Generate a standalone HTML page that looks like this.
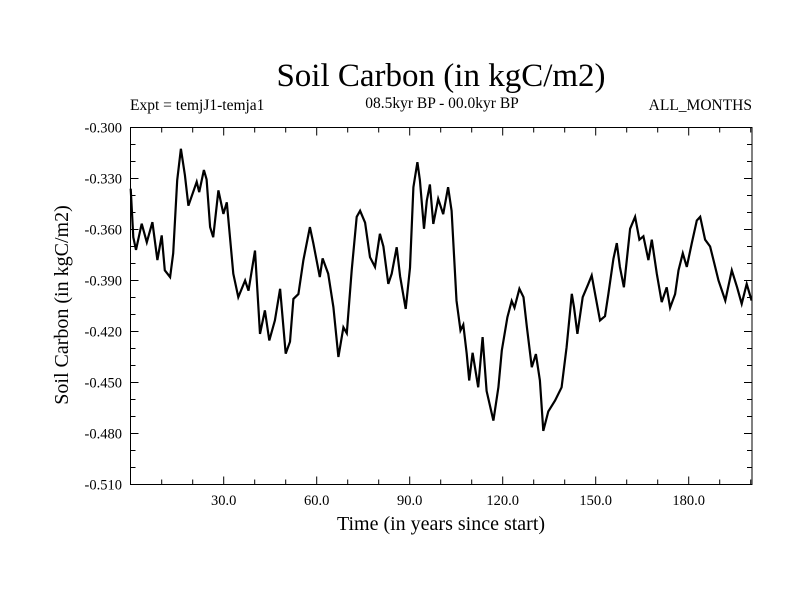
<!DOCTYPE html>
<html><head><meta charset="utf-8"><style>
body{margin:0;background:#fff;}
svg text{font-family:"Liberation Serif",serif;fill:#000;}
</style></head><body>
<svg id="chart" width="800" height="600" xmlns="http://www.w3.org/2000/svg">
<text x="441" y="86" font-size="33" text-anchor="middle">Soil Carbon (in kgC/m2)</text>
<text x="130" y="110" font-size="15.5">Expt = temjJ1-temja1</text>
<text x="442" y="108" font-size="15.5" text-anchor="middle">08.5kyr BP - 00.0kyr BP</text>
<text x="752" y="110" font-size="15.5" text-anchor="end">ALL_MONTHS</text>
<text x="441" y="530" font-size="20" text-anchor="middle">Time (in years since start)</text>
<text transform="translate(68,305) rotate(-90)" font-size="20" text-anchor="middle">Soil Carbon (in kgC/m2)</text>
<g id="axes"></g>
<g id="series"></g>
<rect x="130.5" y="127.5" width="621.5" height="357" fill="none" stroke="#000" stroke-width="1"/>
</svg>
<script>
const years=[0,0.85,1.7,3.55,5.2,7,8.6,10,11,12.7,13.7,15,16.2,17.5,18.6,21.3,22.1,23.6,24.5,25.6,26.6,28.3,29.9,31,33.1,34.7,36.9,38,40.1,41.7,43.3,44.7,46.5,48.2,50,51.4,52.5,54.1,55.7,57.8,58.9,61,61.9,63.7,65.4,67,68.6,69.7,71.3,72.9,74,75.6,77.2,78.8,80.4,81.5,83.1,84.2,85.8,86.9,88.7,90.1,91.2,92.5,93.3,94.6,95.5,96.5,97.6,99.2,100.8,102.4,103.5,105.1,106.4,107.3,108.4,109.2,110.3,112.1,113.5,114.8,117,118.6,119.7,121.5,122.9,123.8,125.4,126.7,127.8,129.4,130.7,132,133.1,134.7,136.9,139,140.6,142.3,143,144.1,145.8,147.6,148.7,150,151.4,153,154.1,155.7,156.8,157.8,159.1,161.1,162.7,164.1,165.4,167,168.1,169.7,171.3,172.9,174,175.6,176.7,178.1,179.4,181,182.6,183.7,185.3,186.9,188,189.6,191.8,193.9,195.6,197.1,198.7,200.3];
const carbon=[-0.336,-0.3645,-0.372,-0.3566,-0.3675,-0.3557,-0.378,-0.3635,-0.384,-0.388,-0.374,-0.331,-0.3125,-0.328,-0.346,-0.332,-0.338,-0.325,-0.3305,-0.3586,-0.3645,-0.337,-0.3508,-0.344,-0.386,-0.3998,-0.39,-0.396,-0.3724,-0.4214,-0.4076,-0.4253,-0.4135,-0.3949,-0.433,-0.426,-0.4008,-0.398,-0.378,-0.3586,-0.368,-0.388,-0.377,-0.386,-0.4057,-0.435,-0.4175,-0.421,-0.384,-0.3525,-0.349,-0.356,-0.3763,-0.382,-0.3625,-0.37,-0.392,-0.386,-0.3704,-0.3875,-0.4067,-0.3825,-0.3351,-0.3204,-0.331,-0.3596,-0.343,-0.3335,-0.3567,-0.342,-0.351,-0.3351,-0.349,-0.4018,-0.4194,-0.416,-0.433,-0.4488,-0.4325,-0.4528,-0.4233,-0.455,-0.4724,-0.4528,-0.4312,-0.4116,-0.402,-0.406,-0.3949,-0.3998,-0.4175,-0.441,-0.4333,-0.4488,-0.4785,-0.467,-0.4606,-0.4528,-0.4292,-0.3978,-0.4057,-0.4214,-0.3998,-0.392,-0.387,-0.3998,-0.4135,-0.411,-0.3978,-0.3773,-0.368,-0.382,-0.394,-0.3596,-0.3525,-0.366,-0.364,-0.378,-0.366,-0.386,-0.4027,-0.394,-0.406,-0.398,-0.384,-0.374,-0.382,-0.368,-0.3547,-0.3525,-0.366,-0.37,-0.378,-0.39,-0.4018,-0.384,-0.394,-0.4037,-0.392,-0.4018];
const xTicks=[30,60,90,120,150,180];
const xTickLabels=["30.0","60.0","90.0","120.0","150.0","180.0"];
const yTicks=[-0.3,-0.33,-0.36,-0.39,-0.42,-0.45,-0.48,-0.51];
const yTickLabels=["-0.300","-0.330","-0.360","-0.390","-0.420","-0.450","-0.480","-0.510"];

const X0=130.7,XS=3.1,Y0=127.5,YS=1700;
const xs=v=>X0+v*XS;
const ys=v=>Y0+(-0.3-v)*YS;
const NS="http://www.w3.org/2000/svg";
const axes=document.getElementById('axes');
function line(x1,y1,x2,y2,name){
  const l=document.createElementNS(NS,'line');
  l.setAttribute('x1',x1);l.setAttribute('y1',y1);l.setAttribute('x2',x2);l.setAttribute('y2',y2);
  l.setAttribute('stroke','#000');l.setAttribute('stroke-width','1');
  
  
  axes.appendChild(l);
}
function text(x,y,s,anchor,name){
  const t=document.createElementNS(NS,'text');
  t.setAttribute('x',x);t.setAttribute('y',y);t.setAttribute('font-size','14.5');t.setAttribute('text-anchor',anchor);
  t.textContent=s;
  
  
  axes.appendChild(t);
}
for(let v=10;v<=200;v+=10){
  const major=v%30===0, len=major?8:5, x=xs(v);
  line(x,484.5,x,484.5-len,'x-tick');
  line(x,127.5,x,127.5+len,'x-tick-top');
}
xTicks.forEach((v,i)=>text(xs(v),505,xTickLabels[i],'middle','x-tick-label'));
for(let k=0;k<=21;k++){
  const v=-0.3-k*0.01, major=k%3===0, len=major?8:5, y=ys(v);
  line(130.5,y,130.5+len,y,'y-tick');
  line(752,y,752-len,y,'y-tick-right');
}
yTicks.forEach((v,i)=>text(122,ys(v)+5,yTickLabels[i],'end','y-tick-label'));
const p=document.createElementNS(NS,'polyline');
p.setAttribute('points',years.map((y,i)=>xs(y).toFixed(1)+','+ys(carbon[i]).toFixed(1)).join(' '));
p.setAttribute('fill','none');p.setAttribute('stroke','#000');p.setAttribute('stroke-width','2.2');p.setAttribute('stroke-linejoin','miter');


document.getElementById('series').appendChild(p);
</script>
</body></html>
